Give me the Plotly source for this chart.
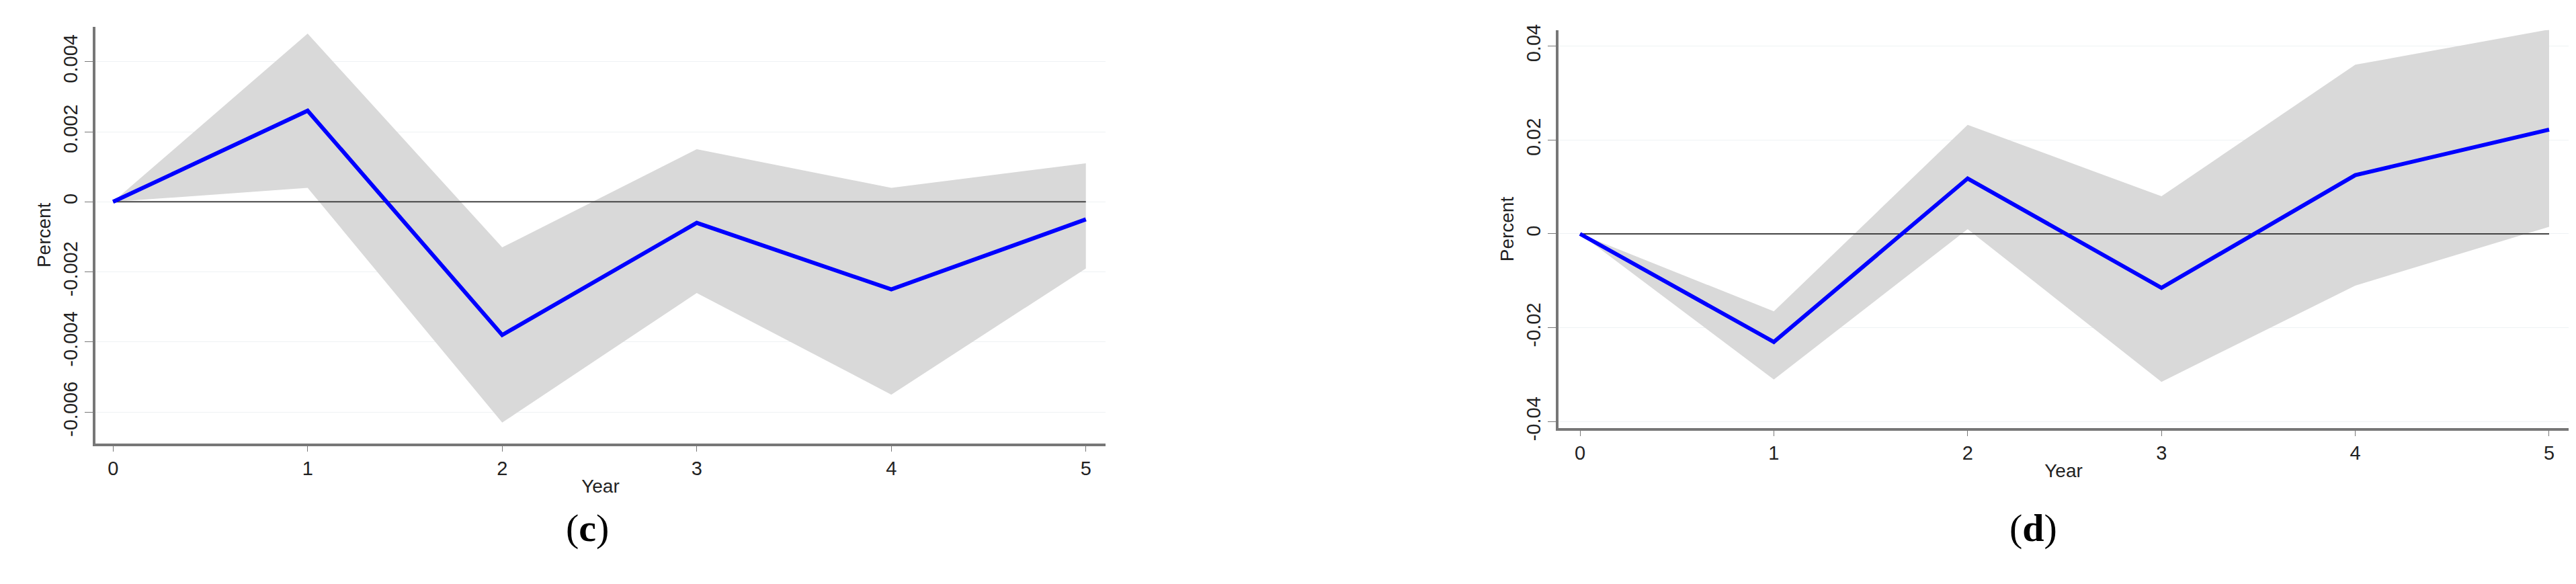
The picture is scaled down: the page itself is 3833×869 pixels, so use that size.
import plotly.graph_objects as go

years = [0, 1, 2, 3, 4, 5]
c_irf = [0, 0.0026, -0.0038, -0.0006, -0.0025, -0.0005]
c_up = [0, 0.0048, -0.0013, 0.0015, 0.0004, 0.0011]
c_lo = [0, 0.0004, -0.0063, -0.0026, -0.0055, -0.0019]
d_irf = [0, -0.023, 0.0118, -0.0115, 0.0125, 0.0222]
d_up = [0, -0.0165, 0.0232, 0.008, 0.036, 0.0435]
d_lo = [0, -0.031, 0.001, -0.0315, -0.011, 0.0015]
c_ticks = [-0.006, -0.004, -0.002, 0, 0.002, 0.004]
c_ticktext = ["-0.006", "-0.004", "-0.002", "0", "0.002", "0.004"]
d_ticks = [-0.04, -0.02, 0, 0.02, 0.04]
d_ticktext = ["-0.04", "-0.02", "0", "0.02", "0.04"]

fig = go.Figure()
for xa, ya, up, lo, irf in [("x", "y", c_up, c_lo, c_irf), ("x2", "y2", d_up, d_lo, d_irf)]:
    fig.add_trace(go.Scatter(x=years + years[::-1], y=up + lo[::-1], fill="toself",
                             fillcolor="#d9d9d9", line=dict(width=0), mode="lines",
                             xaxis=xa, yaxis=ya, showlegend=False))
    fig.add_trace(go.Scatter(x=[0, 5], y=[0, 0], mode="lines", line=dict(color="#444", width=2),
                             xaxis=xa, yaxis=ya, showlegend=False))
    fig.add_trace(go.Scatter(x=years, y=irf, mode="lines", line=dict(color="#0000ff", width=6),
                             xaxis=xa, yaxis=ya, showlegend=False))

ax = dict(tickvals=years, ticks="outside", ticklen=8, tickcolor="#777", showline=True,
          linecolor="#777", linewidth=4, showgrid=False, zeroline=False,
          tickfont=dict(family="Liberation Sans", size=29, color="#222"),
          title=dict(text="Year", font=dict(family="Liberation Sans", size=28, color="#222"), standoff=2))
yax = dict(ticks="outside", ticklen=12, tickcolor="#777", showline=True, linecolor="#777",
           linewidth=4, showgrid=True, gridcolor="#eef2f4", zeroline=False, tickangle=-90,
           tickfont=dict(family="Liberation Sans", size=29, color="#222"),
           title=dict(text="Percent", font=dict(family="Liberation Sans", size=28, color="#222"), standoff=6))

fig.update_layout(
    width=3833, height=869, margin=dict(l=0, r=0, t=0, b=0),
    plot_bgcolor="white", paper_bgcolor="white",
    xaxis=dict(ax, domain=[0.035, 0.427], range=[-0.09, 5.1], anchor="y"),
    yaxis=dict(yax, domain=[0.235, 0.972], range=[-0.0069, 0.0050], tickvals=c_ticks,
               ticktext=c_ticktext, anchor="x"),
    xaxis2=dict(ax, domain=[0.603, 0.995], range=[-0.11, 5.1], anchor="y2"),
    yaxis2=dict(yax, domain=[0.262, 0.966], range=[-0.0414, 0.0434], tickvals=d_ticks,
                ticktext=d_ticktext, anchor="x2"),
    annotations=[
        dict(text="(<b>c</b>)", x=0.217, y=0.045, xref="paper", yref="paper", showarrow=False,
             font=dict(family="Liberation Serif", size=58, color="black")),
        dict(text="(<b>d</b>)", x=0.797, y=0.045, xref="paper", yref="paper", showarrow=False,
             font=dict(family="Liberation Serif", size=58, color="black")),
    ],
)
fig.write_html("out.html")
